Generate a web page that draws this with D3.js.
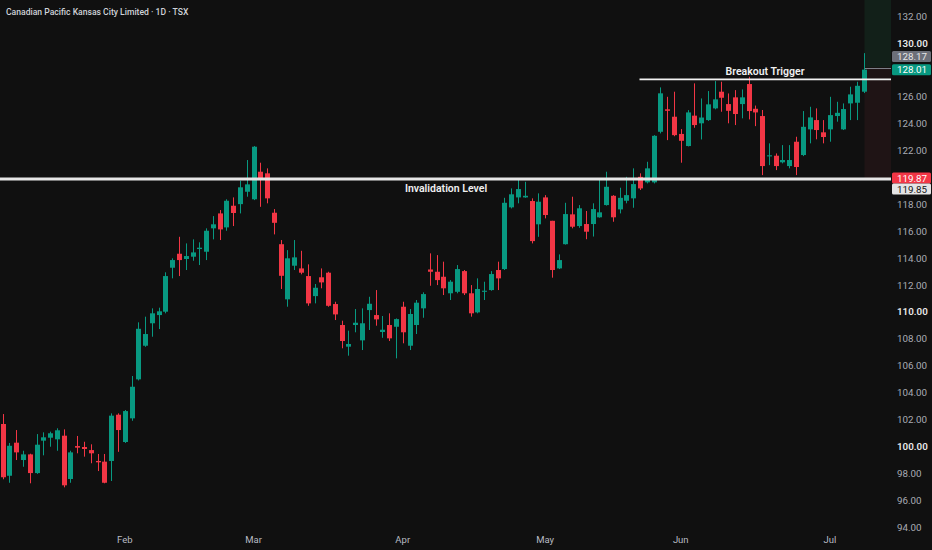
<!DOCTYPE html>
<html>
<head>
<meta charset="utf-8">
<script src="https://cdn.jsdelivr.net/npm/d3@7/dist/d3.min.js"></script>
<style>
  html, body { margin: 0; padding: 0; background: #101010; }
  svg { display: block; }
  text { font-family: Roboto, "Noto Sans", sans-serif; }
</style>
</head>
<body>
<div id="chart"></div>
<script>
// daily candles
const opens = [101.66, 97.81, 100.27, 98.98, 99.40, 98.01, 100.42, 100.64, 100.52, 100.79,
  97.57, 100.02, 99.95, 99.72, 98.91, 98.86, 98.91, 102.35, 100.32, 102.08,
  104.98, 107.48, 109.15, 109.76, 110.01, 113.28, 114.32, 113.93, 114.10, 114.67,
  114.47, 116.21, 117.32, 116.28, 117.89, 118.01, 118.93, 118.37, 120.42, 120.30,
  117.37, 115.03, 110.93, 113.43, 113.23, 112.66, 111.17, 112.57, 112.91, 110.58,
  109.02, 107.41, 109.02, 107.88, 110.13, 109.76, 108.50, 109.02, 108.89, 110.38,
  107.48, 109.02, 110.26, 113.15, 112.98, 112.61, 111.38, 111.49, 113.03, 111.38,
  109.96, 111.49, 111.62, 113.11, 113.18, 117.77, 118.51, 118.51, 118.24, 116.51,
  118.51, 116.77, 113.23, 115.03, 117.25, 116.38, 116.53, 116.53, 117.03, 117.94,
  118.63, 117.62, 118.26, 118.44, 120.04, 119.63, 119.63, 123.39, 125.06, 124.51,
  123.23, 122.33, 124.59, 124.02, 124.26, 125.13, 126.37, 125.45, 125.95, 125.45,
  126.94, 125.10, 124.56, 121.56, 121.61, 121.12, 120.84, 122.65, 121.66, 123.57,
  124.26, 123.35, 123.57, 124.56, 123.57, 125.50, 125.55, 126.37];
const highs = [102.40, 100.25, 101.21, 99.67, 99.45, 100.91, 101.04, 101.09, 101.34, 101.26,
  99.67, 100.77, 100.34, 100.15, 99.43, 99.43, 102.45, 102.45, 102.70, 105.23,
  109.22, 109.64, 110.26, 110.31, 112.94, 113.98, 115.58, 115.09, 115.39, 115.17,
  116.21, 117.12, 117.57, 118.37, 118.51, 119.75, 121.29, 122.33, 121.09, 120.67,
  117.64, 115.34, 114.59, 115.34, 114.54, 113.53, 112.07, 113.23, 112.98, 110.75,
  109.34, 108.60, 110.21, 110.26, 111.12, 111.62, 109.69, 109.89, 109.51, 110.75,
  110.21, 110.88, 111.45, 114.35, 114.22, 113.73, 112.36, 113.48, 113.11, 111.99,
  112.49, 112.24, 113.03, 113.73, 118.48, 119.18, 119.87, 119.67, 118.44, 118.81,
  118.68, 116.77, 114.27, 118.11, 118.56, 117.94, 117.50, 118.07, 119.85, 120.42,
  118.68, 119.23, 120.04, 120.67, 120.30, 121.16, 123.14, 126.69, 125.99, 126.37,
  123.59, 125.00, 126.99, 125.87, 126.42, 127.16, 127.11, 126.24, 126.49, 126.54,
  127.48, 125.34, 125.01, 122.53, 121.78, 122.40, 122.40, 123.02, 124.93, 125.25,
  125.13, 124.26, 125.99, 125.62, 125.50, 126.74, 127.11, 129.24];
const lows = [97.55, 97.29, 98.98, 98.48, 97.25, 97.95, 99.33, 99.97, 99.67, 96.95,
  97.29, 99.48, 99.23, 98.74, 98.16, 97.25, 97.42, 99.59, 100.25, 101.90,
  104.90, 107.40, 108.15, 108.72, 109.89, 112.49, 112.66, 113.11, 113.80, 113.48,
  113.85, 115.39, 115.34, 116.03, 116.38, 117.32, 118.56, 118.31, 117.81, 118.07,
  115.76, 111.70, 110.38, 113.11, 112.79, 110.45, 110.63, 111.75, 110.38, 109.39,
  107.29, 106.74, 108.48, 107.16, 108.65, 108.97, 108.07, 107.83, 106.54, 107.66,
  107.16, 108.35, 109.56, 111.94, 111.99, 111.25, 110.88, 111.38, 111.25, 109.64,
  109.89, 110.88, 111.57, 111.62, 113.11, 117.69, 118.07, 118.48, 115.09, 115.58,
  116.95, 112.54, 113.18, 115.00, 116.21, 116.25, 115.40, 115.60, 117.00, 117.90,
  116.70, 117.32, 118.07, 117.74, 119.06, 119.55, 119.55, 123.27, 122.77, 123.06,
  121.09, 122.30, 123.69, 122.82, 124.20, 125.06, 124.88, 124.02, 123.89, 124.39,
  124.31, 123.81, 120.17, 120.91, 120.54, 121.04, 120.67, 120.17, 121.58, 122.53,
  122.83, 122.53, 122.65, 124.14, 123.52, 124.26, 124.26, 126.27];
const closes = [97.70, 100.04, 99.55, 99.40, 98.01, 100.12, 100.67, 100.97, 101.19, 97.10,
  99.55, 99.90, 99.80, 99.48, 98.81, 97.29, 102.28, 101.21, 102.62, 104.43,
  108.74, 108.35, 109.89, 110.04, 112.66, 113.85, 113.85, 114.15, 114.42, 114.77,
  116.03, 116.51, 116.13, 118.26, 117.35, 119.26, 119.48, 122.28, 119.93, 118.44,
  116.62, 112.68, 113.98, 114.05, 112.91, 110.63, 111.79, 112.19, 110.45, 109.81,
  107.83, 107.61, 109.19, 109.15, 110.60, 109.44, 108.67, 108.03, 109.46, 108.48,
  109.84, 110.68, 111.32, 112.98, 112.36, 111.75, 112.24, 113.18, 111.38, 109.89,
  111.70, 111.57, 112.81, 112.49, 118.11, 118.74, 119.13, 118.63, 115.26, 118.19,
  117.20, 113.11, 113.85, 117.27, 116.33, 117.70, 115.96, 117.64, 117.40, 119.30,
  117.03, 118.48, 118.68, 119.50, 119.18, 120.67, 123.09, 126.25, 124.95, 123.14,
  122.72, 124.83, 123.89, 124.45, 125.43, 125.80, 125.92, 124.95, 124.71, 125.95,
  124.93, 124.83, 120.84, 121.64, 120.84, 121.29, 121.29, 120.77, 123.76, 124.46,
  123.52, 123.00, 124.63, 124.80, 125.08, 126.17, 126.81, 128.01];

// month labels sit on the first bar of each month
const monthIndex = [18, 37, 59, 80, 100, 122];
const monthNames = ["Feb", "Mar", "Apr", "May", "Jun", "Jul"];

const priceTicks = d3.range(94, 133, 2);
const invalidationLevel = 119.87;
const invalidationMark = 119.85;
const breakoutLevel = 127.29;
const breakoutStart = 94;      // bar where the breakout line begins
const lastPrice = 128.01;
const prevPrice = 128.17;
const title = "Canadian Pacific Kansas City Limited · 1D · TSX";

const width = 932, height = 550;
const plotRight = 891;
const green = "#089981", red = "#f23645";

let bars = opens.map(function(o, i) {
  return { i: i, open: o, high: highs[i], low: lows[i], close: closes[i] };
});

let x = d3.scaleBand()
          .domain(d3.range(bars.length))
          .range([-0.7, 867.2])
          .paddingInner(0.25)
          .paddingOuter(0.125);

let y = d3.scaleLinear()
          .domain([94, 132])
          .range([527, 16]);

function cx(i) { return Math.round(x(i) + x.bandwidth() / 2) + 0.5; }

let svg = d3.select("#chart")
            .append("svg")
            .attr("width", width)
            .attr("height", height);

svg.append("rect")
   .attr("width", width)
   .attr("height", height)
   .attr("fill", "#101010");

// position tool shading at the right edge
let last = bars.length - 1;
svg.append("rect")
   .attr("x", cx(last))
   .attr("y", 0)
   .attr("width", plotRight - cx(last))
   .attr("height", y(prevPrice))
   .attr("fill", "#122019");
svg.append("rect")
   .attr("x", cx(last))
   .attr("y", y(prevPrice))
   .attr("width", plotRight - cx(last))
   .attr("height", y(invalidationLevel) - y(prevPrice))
   .attr("fill", "#1f1415");

svg.append("line")
   .attr("x1", cx(last)).attr("x2", plotRight)
   .attr("y1", Math.round(y(prevPrice)) + 0.5).attr("y2", Math.round(y(prevPrice)) + 0.5)
   .attr("stroke", "#7c7f88")
   .attr("stroke-width", 1);

// candles
let candle = svg.append("g").attr("class", "candles")
                .selectAll("g")
                .data(bars)
                .enter().append("g");

candle.append("line")
      .attr("x1", function(d) { return cx(d.i); })
      .attr("x2", function(d) { return cx(d.i); })
      .attr("y1", function(d) { return y(d.high); })
      .attr("y2", function(d) { return y(d.low); })
      .attr("stroke", function(d) { return d.close >= d.open ? green : red; })
      .attr("stroke-width", 1);

candle.append("rect")
      .attr("x", function(d) { return cx(d.i) - 2.5; })
      .attr("width", 5)
      .attr("y", function(d) { return y(Math.max(d.open, d.close)); })
      .attr("height", function(d) { return Math.max(1, y(Math.min(d.open, d.close)) - y(Math.max(d.open, d.close))); })
      .attr("fill", function(d) { return d.close >= d.open ? green : red; });

// horizontal levels
svg.append("line")
   .attr("x1", 0).attr("x2", plotRight)
   .attr("y1", y(invalidationLevel)).attr("y2", y(invalidationLevel))
   .attr("stroke", "#e6e6e6")
   .attr("stroke-width", 3);

svg.append("text")
   .attr("x", 446)
   .attr("y", y(invalidationLevel) + 13)
   .attr("text-anchor", "middle")
   .attr("fill", "#f0f0f0")
   .attr("font-size", "10.5px")
   .attr("font-weight", 600)
   .text("Invalidation Level");

svg.append("line")
   .attr("x1", cx(breakoutStart) - 1).attr("x2", plotRight)
   .attr("y1", y(breakoutLevel)).attr("y2", y(breakoutLevel))
   .attr("stroke", "#f2f2f2")
   .attr("stroke-width", 1.6);

svg.append("text")
   .attr("x", 765)
   .attr("y", y(breakoutLevel) - 4)
   .attr("text-anchor", "middle")
   .attr("fill", "#f0f0f0")
   .attr("font-size", "10.5px")
   .attr("font-weight", 600)
   .text("Breakout Trigger");

// axes
let xAxis = svg.append("g")
               .attr("transform", "translate(0,534)")
               .call(d3.axisBottom(x)
                       .tickValues(monthIndex)
                       .tickSize(0)
                       .tickPadding(2)
                       .tickFormat(function(d, k) { return monthNames[k]; }));
xAxis.select(".domain").remove();
xAxis.selectAll("text")
     .attr("fill", "#b8bbc2")
     .attr("font-size", "9.5px")
     .attr("font-family", "Roboto, sans-serif");

let yAxis = svg.append("g")
               .attr("transform", "translate(" + (plotRight + 2) + ",0)")
               .call(d3.axisRight(y)
                       .tickValues(priceTicks)
                       .tickSize(0)
                       .tickPadding(4)
                       .tickFormat(d3.format(".2f")));
yAxis.select(".domain").remove();
yAxis.selectAll("text")
     .attr("fill", function(d) { return d % 10 === 0 ? "#e8e8e8" : "#a9acb4"; })
     .attr("font-weight", function(d) { return d % 10 === 0 ? 600 : 400; })
     .attr("font-size", "9.8px")
     .attr("font-family", "Roboto, sans-serif");

// price labels on the scale
let tags = [
  { value: prevPrice, cy: y(prevPrice) - 11, fill: "#6c6f79", color: "#e6e6e6" },
  { value: lastPrice, cy: y(lastPrice), fill: green, color: "#ffffff" },
  { value: invalidationLevel, cy: y(invalidationLevel) - 1, fill: red, color: "#ffffff" },
  { value: invalidationMark, cy: y(invalidationLevel) + 10, fill: "#e4e4e4", color: "#131313" }
];

let tag = svg.append("g").selectAll("g")
             .data(tags)
             .enter().append("g");

tag.append("rect")
   .attr("x", plotRight + 1)
   .attr("y", function(d) { return d.cy - 5.5; })
   .attr("width", 39)
   .attr("height", 11)
   .attr("rx", 1.5)
   .attr("fill", function(d) { return d.fill; });

tag.append("text")
   .attr("x", plotRight + 6)
   .attr("y", function(d) { return d.cy; })
   .attr("dy", "0.35em")
   .attr("fill", function(d) { return d.color; })
   .attr("font-size", "9.8px")
   .text(function(d) { return d3.format(".2f")(d.value); });

svg.append("text")
   .attr("x", 6)
   .attr("y", 15)
   .attr("fill", "#cfd2d8")
   .attr("font-size", "8.6px")
   .attr("font-weight", 500)
   .text(title);
</script>
</body>
</html>
